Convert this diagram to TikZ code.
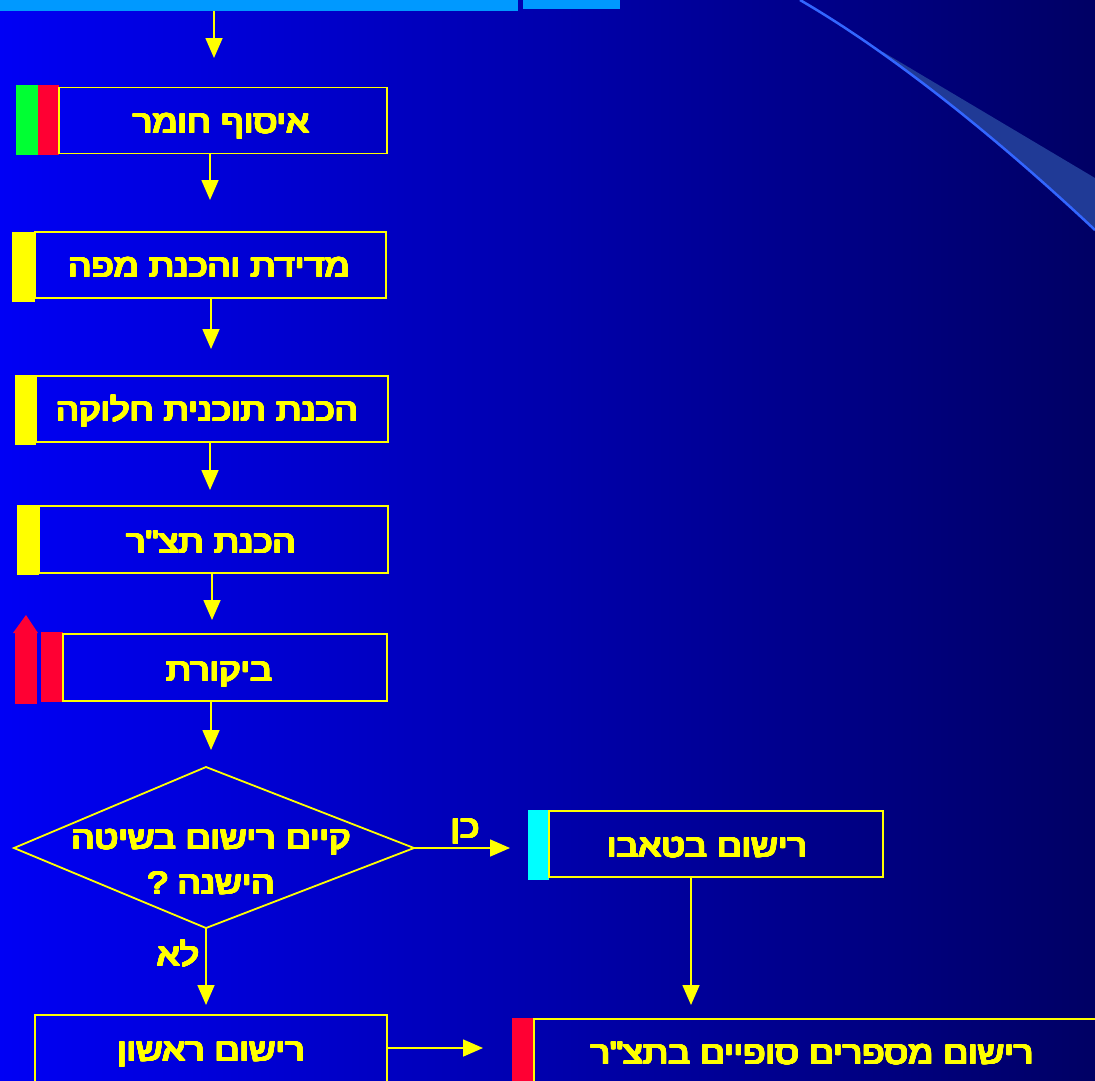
\documentclass[tikz,border=0pt]{standalone}
\usepackage{fontspec}
\usepackage{contour}
\contourlength{0.9pt}
\contournumber{24}
\usetikzlibrary{arrows.meta}
\newfontfamily\heb[Script=Hebrew,FakeStretch=1.16]{Liberation Sans}
\TeXXeTstate=1
\definecolor{yel}{RGB}{255,255,0}
\definecolor{bgL}{RGB}{0,0,245}
\definecolor{bgM}{RGB}{0,0,205}
\definecolor{bgR}{RGB}{0,0,100}
\definecolor{barblue}{RGB}{0,153,255}
\definecolor{redbar}{RGB}{255,0,51}
\definecolor{greenbar}{RGB}{0,255,51}
\definecolor{cyanbar}{RGB}{0,255,255}
\definecolor{swoosh}{RGB}{51,102,255}
\definecolor{wedge}{RGB}{32,58,150}
\newcommand{\heblabel}[1]{\contour{yel}{\beginR #1\endR}}
\tikzset{
  box/.style={draw=yel, line width=1.8pt, inner sep=0pt, rectangle},
  txt/.style={text=yel, inner sep=0pt, anchor=base, font=\heb\fontsize{31.5}{44}\selectfont},
  arr/.style={draw=yel, line width=1.6pt, -{Triangle[width=17pt,length=20pt]}},
  flow/.style={draw=yel, line width=1.8pt}
}
\begin{document}
\begin{tikzpicture}[x=1pt,y=-1pt]
\useasboundingbox (0,0) rectangle (1095,1080);
\begin{scope}
\clip (0,0) rectangle (1095,1080);
% background
\shade[left color=bgL, middle color=bgM, right color=bgR] (0,0) rectangle (1095,1080);
% swoosh
\begin{scope}
  \clip (800,0) .. controls (900,58) and (1010,150) .. (1095,230) -- (1095,0) -- cycle;
  \fill[wedge] (883,52) -- (1095,178) -- (1095,300) -- (883,300) -- cycle;
\end{scope}
\draw[swoosh, line width=2.5pt] (800,0) .. controls (900,58) and (1010,150) .. (1095,230);
% top bars
\node[fill=barblue, inner sep=0pt, minimum width=518pt, minimum height=11pt, anchor=north west] (topbar) at (0,0) {};
\node[fill=barblue, inner sep=0pt, minimum width=97pt, minimum height=9pt, anchor=north west] (topbar2) at (523,0) {};

% colour bars
\fill[greenbar] (16,85) rectangle (38,155);
\fill[redbar] (38,85) rectangle (59,155);
\fill[yel] (12,232) rectangle (35,302);
\fill[yel] (15,375) rectangle (36,445);
\fill[yel] (17,505) rectangle (39,575);
\fill[redbar] (15,633) rectangle (37,704);
\fill[redbar] (13,633) -- (26,615) -- (38,633) -- cycle;
\fill[redbar] (41,632) rectangle (63,702);
\fill[cyanbar] (528,810) rectangle (549,880);
\fill[redbar] (512,1018) rectangle (534,1085);

% boxes
\node[box, minimum width=328pt, minimum height=66pt] (b1) at (223,120.5) {};
\node[box, minimum width=351pt, minimum height=66pt] (b2) at (210.5,265) {};
\node[box, minimum width=352pt, minimum height=66pt] (b3) at (212,409) {};
\node[box, minimum width=349pt, minimum height=67pt] (b4) at (213.5,539.5) {};
\node[box, minimum width=324pt, minimum height=67pt] (b5) at (225,667.5) {};
\node[box, minimum width=334pt, minimum height=66pt] (tb) at (716,844) {};
\node[box, minimum width=352pt, minimum height=85pt] (rr) at (211,1057.5) {};
\node[box, minimum width=580pt, minimum height=90pt] (fin) at (824,1064) {};

% diamond
\coordinate (dl) at (14,848);
\coordinate (dr) at (414,848);
\coordinate (dt) at (206,767);
\coordinate (db) at (206,928);
\draw[flow] (dl) -- (dt) -- (dr) -- (db) -- cycle;

% texts
\node[txt] (t1) at (221,133) {\heblabel{איסוף חומר}};
\node[txt] (t2) at (209,277) {\heblabel{מדידת והכנת מפה}};
\node[txt] (t3) at (207,421) {\heblabel{הכנת תוכנית חלוקה}};
\node[txt] (t4) at (211,553) {\heblabel{הכנת תצ"ר}};
\node[txt] (t5) at (219,681) {\heblabel{ביקורת}};
\node[txt] (d1) at (211,849) {\heblabel{קיים רישום בשיטה}};
\node[txt] (d2) at (211,894) {\heblabel{הישנה ?}};
\node[txt] (yes) at (465,838) {\heblabel{כן}};
\node[txt] (no) at (178,966) {\heblabel{לא}};
\node[txt] (t6) at (707,857) {\heblabel{רישום בטאבו}};
\node[txt] (t7) at (211,1061) {\heblabel{רישום ראשון}};
\node[txt] (t8) at (812,1064) {\heblabel{רישום מספרים סופיים בתצ"ר}};

% arrow tips
\coordinate (a0) at (214,58);
\coordinate (a1) at (210,200);
\coordinate (a2) at (211,349);
\coordinate (a3) at (210,490);
\coordinate (a4) at (212,620);
\coordinate (a5) at (211,750);
\coordinate (a6) at (510,848);
\coordinate (a7) at (206,1005);
\coordinate (a8) at (691,1005);
\coordinate (a9) at (483,1048);

\draw[arr] (topbar.south -| a0) -- (a0);
\draw[arr] (b1.south -| a1) -- (a1);
\draw[arr] (b2.south -| a2) -- (a2);
\draw[arr] (b3.south -| a3) -- (a3);
\draw[arr] (b4.south -| a4) -- (a4);
\draw[arr] (b5.south -| a5) -- (a5);
\draw[arr] (dr) -- (a6);
\draw[arr] (db) -- (a7);
\draw[arr] (tb.south -| a8) -- (a8);
\draw[arr] (rr.east |- a9) -- (a9);
\end{scope}
\end{tikzpicture}
\end{document}
